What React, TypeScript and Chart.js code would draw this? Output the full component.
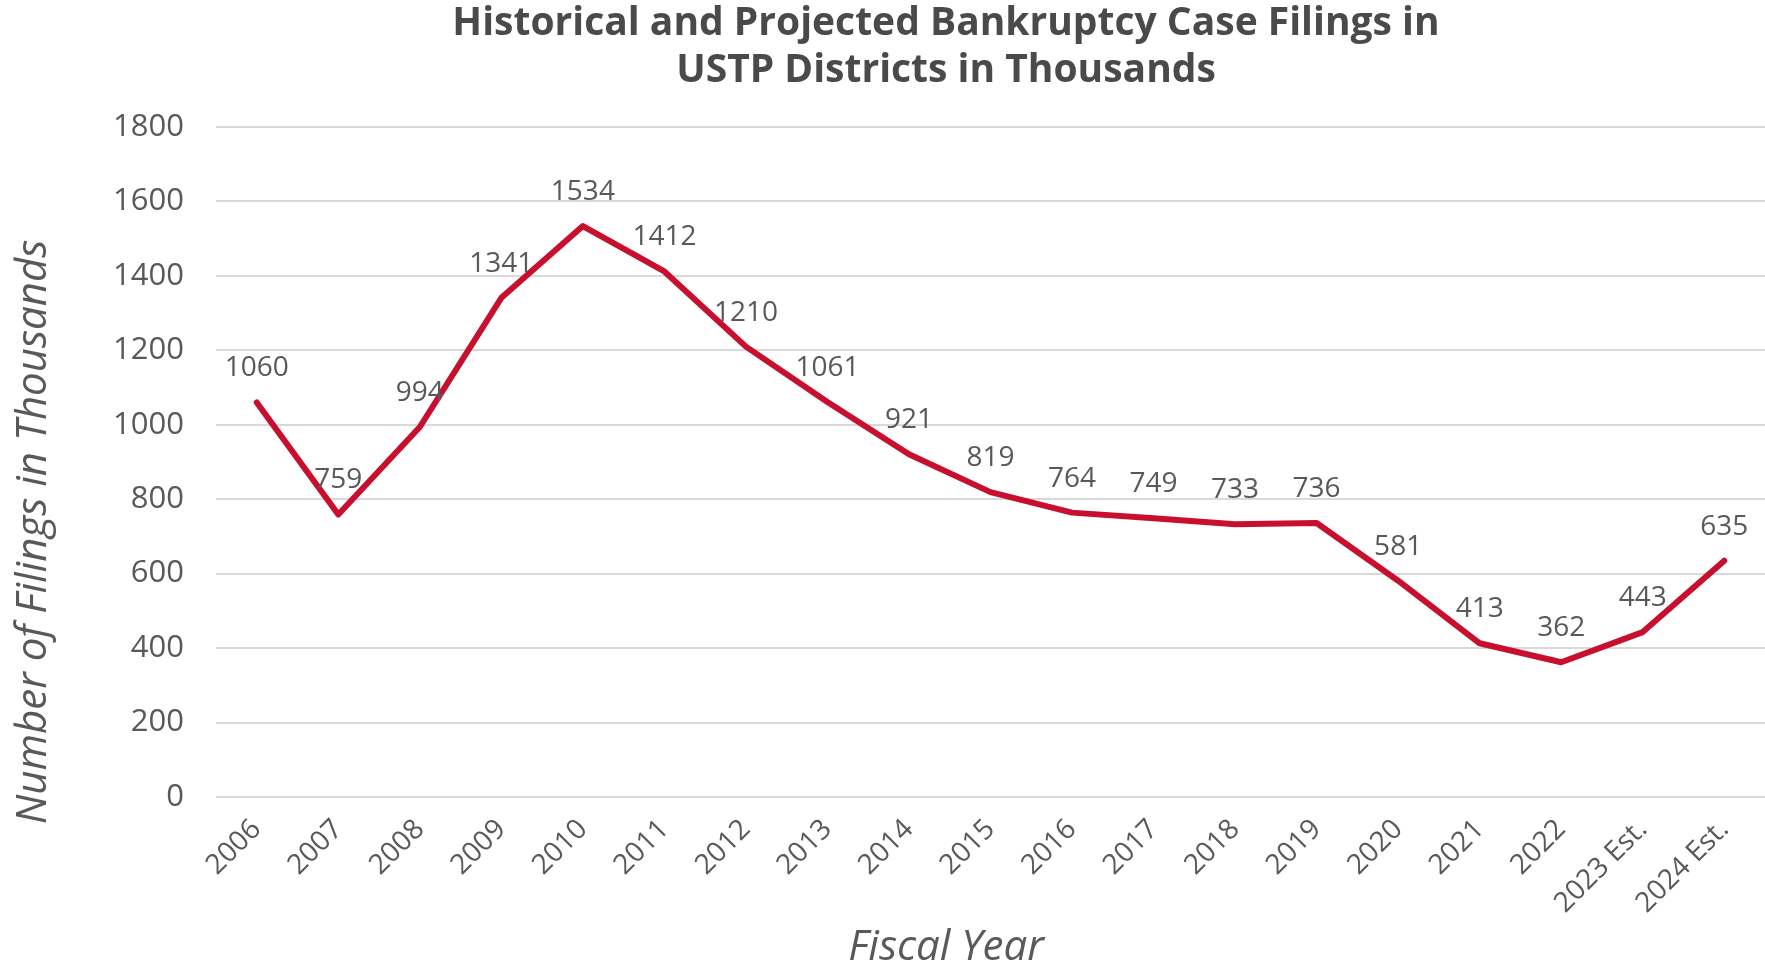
import React, { useEffect, useRef } from "react";
import { Chart, registerables } from "chart.js";

Chart.register(...registerables);

const categories = [
  "2006", "2007", "2008", "2009", "2010", "2011", "2012", "2013", "2014", "2015",
  "2016", "2017", "2018", "2019", "2020", "2021", "2022", "2023 Est.", "2024 Est.",
];
const filings = [
  1060, 759, 994, 1341, 1534, 1412, 1210, 1061, 921, 819,
  764, 749, 733, 736, 581, 413, 362, 443, 635,
];
const titleLines = [
  "Historical and Projected Bankruptcy Case Filings in",
  "USTP Districts in Thousands",
];
const xTitle = "Fiscal Year";
const yTitle = "Number of Filings in Thousands";
const yMin = 0;
const yMax = 1800;
const yStep = 200;

const FONT = "'Open Sans', 'DejaVu Sans', sans-serif";
const TEXT = "#595959";
const TITLE = "#4a4a4a";
const LINE = "#c8102e";

const labelsPlugin = {
  id: "valueLabels",
  afterDatasetsDraw(chart: any) {
    const ctx = chart.ctx;
    const meta = chart.getDatasetMeta(0);
    ctx.save();
    ctx.font = `28px ${FONT}`;
    ctx.fillStyle = TEXT;
    ctx.textAlign = "center";
    ctx.textBaseline = "middle";
    meta.data.forEach((pt: any, i: number) => {
      ctx.fillText(String(filings[i]), pt.x, pt.y - 34);
    });
    ctx.restore();
  },
};

const titlesPlugin = {
  id: "customTitles",
  afterDraw(chart: any) {
    const ctx = chart.ctx;
    ctx.save();
    ctx.textAlign = "center";
    ctx.textBaseline = "middle";
    ctx.fillStyle = TITLE;
    ctx.font = `bold 39px ${FONT}`;
    ctx.fillText(titleLines[0], 946, 24);
    ctx.fillText(titleLines[1], 946, 71);
    ctx.fillStyle = TEXT;
    ctx.font = `italic 42px ${FONT}`;
    ctx.fillText(xTitle, 946, 948);
    ctx.translate(34, 532);
    ctx.rotate(-Math.PI / 2);
    ctx.fillText(yTitle, 0, 0);
    ctx.restore();
  },
};

export default function App() {
  const ref = useRef<HTMLCanvasElement>(null);
  useEffect(() => {
    if (!ref.current) return;
    const chart = new Chart(ref.current, {
      type: "line",
      data: {
        labels: categories,
        datasets: [
          {
            data: filings,
            borderColor: LINE,
            backgroundColor: LINE,
            borderWidth: 6,
            pointRadius: 0,
            tension: 0,
            borderJoinStyle: "round",
            borderCapStyle: "round",
          },
        ],
      },
      options: {
        animation: false,
        responsive: false,
        layout: { padding: { top: 127, right: -6, left: 0, bottom: 0 } },
        plugins: {
          legend: { display: false },
          tooltip: { enabled: false },
          title: { display: false },
        },
        scales: {
          x: {
            offset: true,
            grid: { display: false, drawTicks: false },
            border: { display: false },
            ticks: {
              color: TEXT,
              font: { family: FONT, size: 28 },
              maxRotation: 45,
              minRotation: 45,
              padding: 16,
              autoSkip: false,
            },
            afterFit(s: any) {
              s.height = 171;
              s.paddingRight = -6;
            },
          },
          y: {
            min: yMin,
            max: yMax,
            grid: { color: "#d9d9d9", lineWidth: 2, drawTicks: false },
            border: { display: false },
            ticks: {
              stepSize: yStep,
              color: TEXT,
              font: { family: FONT, size: 31 },
              padding: 32,
              callback: (v: any) => String(v),
            },
            afterFit(s: any) {
              s.width = 216;
            },
          },
        },
      },
      plugins: [labelsPlugin, titlesPlugin],
    });
    return () => chart.destroy();
  }, []);
  return (
    <div style={{ position: "absolute", left: 0, top: 0, width: 1765, height: 968, background: "#fff" }}>
      <canvas ref={ref} width={1765} height={968} />
    </div>
  );
}
